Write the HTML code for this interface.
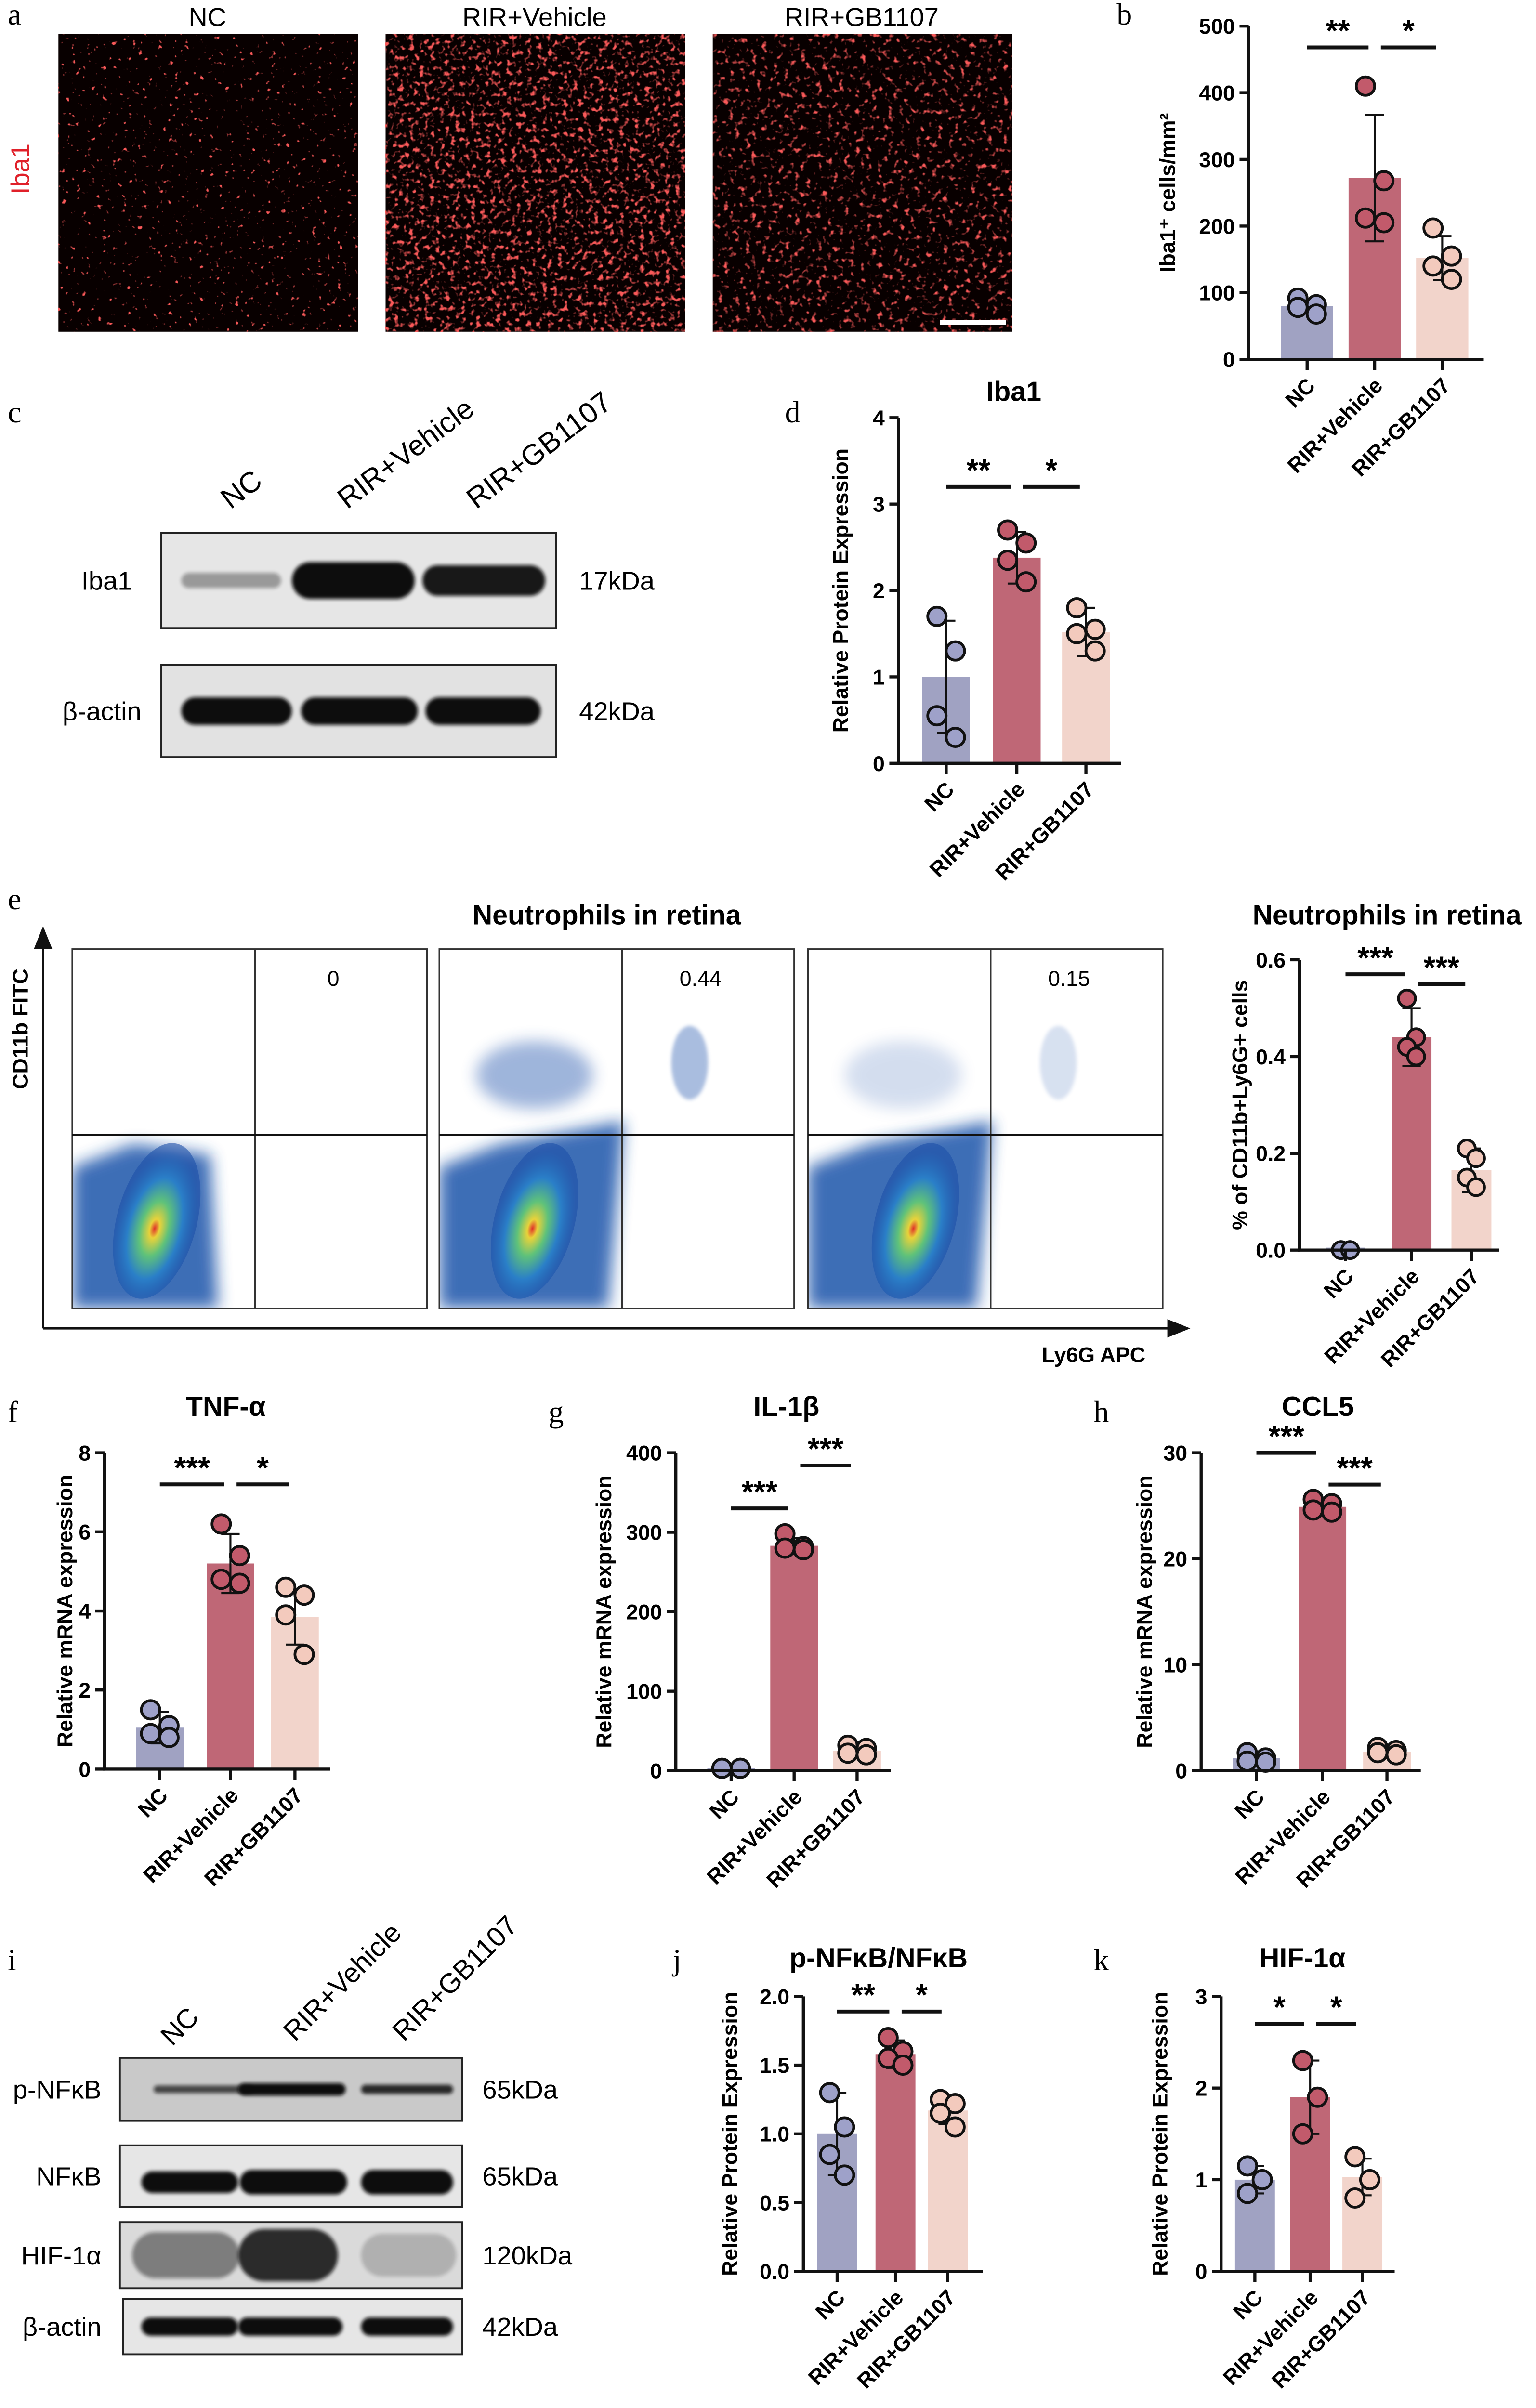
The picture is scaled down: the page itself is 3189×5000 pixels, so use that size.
<!DOCTYPE html>
<html><head><meta charset="utf-8"><style>
html,body{margin:0;padding:0;background:#fff;}
svg{display:block;}
text{font-family:"Liberation Sans",sans-serif;}
</style></head><body>
<svg id="fig" xmlns="http://www.w3.org/2000/svg" width="3189" height="5000" viewBox="0 0 1000 1568">
<defs>
<filter id="blur1" x="-20%" y="-50%" width="140%" height="200%"><feGaussianBlur stdDeviation="1.2"/></filter>
<filter id="blur3" x="-50%" y="-50%" width="200%" height="200%"><feGaussianBlur stdDeviation="5"/></filter>
<filter id="noise" x="0" y="0" width="100%" height="100%"><feTurbulence type="fractalNoise" baseFrequency="0.3" numOctaves="2" seed="3"/><feColorMatrix type="matrix" values="0 0 0 0 0.95  0 0 0 0 0.1  0 0 0 0 0.1  0 0 0 9 -6.2"/></filter>
<filter id="noise2" x="0" y="0" width="100%" height="100%"><feTurbulence type="fractalNoise" baseFrequency="0.3" numOctaves="2" seed="7"/><feColorMatrix type="matrix" values="0 0 0 0 0.95  0 0 0 0 0.1  0 0 0 0 0.1  0 0 0 5 -2.7"/></filter>
<filter id="noise3" x="0" y="0" width="100%" height="100%"><feTurbulence type="fractalNoise" baseFrequency="0.28" numOctaves="2" seed="11"/><feColorMatrix type="matrix" values="0 0 0 0 0.95  0 0 0 0 0.1  0 0 0 0 0.1  0 0 0 5 -2.9"/></filter>
<radialGradient id="flowg" cx="50%" cy="55%" r="50%"><stop offset="0" stop-color="#e0302a"/><stop offset="0.12" stop-color="#e8d23a"/><stop offset="0.35" stop-color="#5fc27a"/><stop offset="0.65" stop-color="#2a7fc8"/><stop offset="1" stop-color="#1c4fa8" stop-opacity="0.6"/></radialGradient>
<clipPath id="fc0"><rect x="47" y="618" width="231" height="234"/></clipPath>
<clipPath id="fc1"><rect x="286" y="618" width="231" height="234"/></clipPath>
<clipPath id="fc2"><rect x="526" y="618" width="231" height="234"/></clipPath>
</defs>
<g id="root"></g>
</svg>
<script>
// ---------- Chart data ----------
const groups = ["NC", "RIR+Vehicle", "RIR+GB1107"];
const bMeans = [80, 272, 152];
const bErr = [8, 95, 33];
const bPts = [[92, 82, 78, 68], [410, 268, 212, 205], [197, 155, 140, 120]];
const bTicks = [0, 100, 200, 300, 400, 500];
const dMeans = [1.0, 2.38, 1.52];
const dErr = [0.65, 0.3, 0.28];
const dPts = [[1.7, 1.3, 0.55, 0.3], [2.7, 2.55, 2.35, 2.1], [1.8, 1.55, 1.5, 1.3]];
const dTicks = [0, 1, 2, 3, 4];
const eMeans = [0.005, 0.44, 0.165];
const eErr = [0.003, 0.06, 0.045];
const ePts = [[0, 0, 0, 0], [0.52, 0.44, 0.42, 0.40], [0.21, 0.19, 0.15, 0.13]];
const eTicks = [0, 0.2, 0.4, 0.6];
const fMeans = [1.05, 5.2, 3.85];
const fErr = [0.4, 0.75, 0.7];
const fPts = [[1.5, 1.1, 0.9, 0.8], [6.2, 5.4, 4.8, 4.7], [4.6, 4.4, 3.9, 2.9]];
const fTicks = [0, 2, 4, 6, 8];
const gMeans = [3, 283, 25];
const gErr = [1, 10, 6];
const gPts = [[3, 3, 3, 3], [298, 282, 280, 278], [32, 28, 22, 20]];
const gTicks = [0, 100, 200, 300, 400];
const hMeans = [1.2, 24.9, 1.8];
const hErr = [0.4, 0.6, 0.3];
const hPts = [[1.7, 1.2, 0.9, 0.8], [25.6, 25.2, 24.6, 24.4], [2.2, 1.9, 1.7, 1.5]];
const hTicks = [0, 10, 20, 30];
const jMeans = [1.0, 1.58, 1.17];
const jErr = [0.3, 0.1, 0.1];
const jPts = [[1.3, 1.05, 0.85, 0.7], [1.7, 1.6, 1.55, 1.5], [1.25, 1.22, 1.15, 1.05]];
const jTicks = [0, 0.5, 1.0, 1.5, 2.0];
const kMeans = [1.0, 1.9, 1.03];
const kErr = [0.15, 0.4, 0.2];
const kPts = [[1.15, 1.0, 0.85], [2.3, 1.9, 1.5], [1.25, 1.0, 0.8]];
const kTicks = [0, 1, 2, 3];
const flowValues = ["0", "0.44", "0.15"];

const NS = "http://www.w3.org/2000/svg";
const root = document.getElementById("root");
const barFill = ["#a0a2c2", "#bf6776", "#f2d4cb"];
const dotFill = ["#9ea1c9", "#c25a6b", "#f3cabd"];
function el(tag, attrs, parent, txt) {
  const e = document.createElementNS(NS, tag);
  for (const k in attrs) e.setAttribute(k, attrs[k]);
  if (txt !== undefined) e.textContent = txt;
  (parent || root).appendChild(e);
  return e;
}

function chart(id, o, means, err, pts, ticks, sig) {
  const g = el("g", {});
  
  
  const max = ticks[ticks.length - 1];
  const y = v => o.bot - (v / max) * (o.bot - o.top);
  const dec = o.dec || 0;
  means.forEach((m, i) => {
    const r = el("rect", {x: o.cx[i] - o.bw / 2, y: y(m), width: o.bw, height: o.bot - y(m), fill: barFill[i]}, g);
    
    
  });
  means.forEach((m, i) => {
    const eb = el("path", {d: `M${o.cx[i]} ${y(m - err[i])}V${y(m + err[i])}M${o.cx[i]-6} ${y(m + err[i])}h12M${o.cx[i]-6} ${y(m - err[i])}h12`, stroke: "#111", "stroke-width": 1.3, fill: "none"}, g);
    
    
  });
  const off = [-6, 6, -6, 6];
  pts.forEach((arr, i) => arr.forEach((v, k) => {
    const c = el("circle", {cx: o.cx[i] + off[k % 4] * (o.spread || 1), cy: y(v), r: o.pr || 6, fill: dotFill[i], stroke: "#111", "stroke-width": 1.8}, g);
    
    
  }));
  const ax = el("path", {d: `M${o.ax} ${o.top}V${o.bot}H${o.xEnd}`, stroke: "#111", "stroke-width": 2, fill: "none"}, g);
  
  
  ticks.forEach(t => {
    el("line", {x1: o.ax - 6, x2: o.ax, y1: y(t), y2: y(t), stroke: "#111", "stroke-width": 2}, g);
    const tl = el("text", {x: o.ax - 9, y: y(t) + 5, "text-anchor": "end", "font-size": 14, "font-weight": "bold"}, g, t.toFixed(dec));
    
    
  });
  groups.forEach((name, i) => {
    el("line", {x1: o.cx[i], x2: o.cx[i], y1: o.bot, y2: o.bot + 7, stroke: "#111", "stroke-width": 2}, g);
    const tx = el("text", {x: 0, y: 0, "text-anchor": "end", "font-size": 14, "font-weight": "bold", transform: `translate(${o.cx[i] + 6},${o.bot + 18}) rotate(-45)`}, g, name);
    
    
  });
  const yt = el("text", {x: 0, y: 0, "text-anchor": "middle", "font-size": 14, "font-weight": "bold", transform: `translate(${o.ytx},${(o.top + o.bot) / 2}) rotate(-90)`}, g, o.ytitle);
  
  
  if (o.title) {
    const tt = el("text", {x: o.tx, y: o.ty, "text-anchor": "middle", "font-size": 18, "font-weight": "bold"}, g, o.title);
    
    
  }
  sig.forEach(s => {
    const x1 = o.cx[s[0]] + (s[0] === 0 ? 0 : 4), x2 = o.cx[s[1]] - 4;
    el("line", {x1: x1, x2: x2, y1: y(s[2]), y2: y(s[2]), stroke: "#111", "stroke-width": 2.5}, g);
    const st = el("text", {x: (x1 + x2) / 2, y: y(s[2]) - 4, "text-anchor": "middle", "font-size": 20, "font-weight": "bold"}, g, s[3]);
    
    
  });
}

chart("b", {ax: 813, top: 17, bot: 234, xEnd: 966, cx: [851, 895, 939], bw: 34, ytx: 765, ytitle: "Iba1\u207A cells/mm\u00B2"}, bMeans, bErr, bPts, bTicks, [[0, 1, 468, "**"], [1, 2, 468, "*"]]);
chart("d", {ax: 585, top: 272, bot: 497, xEnd: 730, cx: [616, 662, 707], bw: 31, ytx: 552, ytitle: "Relative Protein Expression", title: "Iba1", tx: 660, ty: 261}, dMeans, dErr, dPts, dTicks, [[0, 1, 3.2, "**"], [1, 2, 3.2, "*"]]);
chart("e", {ax: 846, top: 625, bot: 814, xEnd: 976, cx: [876, 919, 958], bw: 26, dec: 1, ytx: 812, ytitle: "% of CD11b+Ly6G+ cells", title: "Neutrophils in retina", tx: 903, ty: 602, spread: 0.5, pr: 5.5}, eMeans, eErr, ePts, eTicks, [[0, 1, 0.57, "***"], [1, 2, 0.55, "***"]]);
chart("f", {ax: 68, top: 946, bot: 1152, xEnd: 215, cx: [104, 150, 192], bw: 31, ytx: 47, ytitle: "Relative mRNA expression", title: "TNF-\u03B1", tx: 147, ty: 922}, fMeans, fErr, fPts, fTicks, [[0, 1, 7.2, "***"], [1, 2, 7.2, "*"]]);
chart("g", {ax: 440, top: 946, bot: 1153, xEnd: 580, cx: [476, 517, 558], bw: 31, ytx: 398, ytitle: "Relative mRNA expression", title: "IL-1\u03B2", tx: 512, ty: 922}, gMeans, gErr, gPts, gTicks, [[0, 1, 330, "***"], [1, 2, 384, "***"]]);
chart("h", {ax: 782, top: 946, bot: 1153, xEnd: 925, cx: [818, 861, 903], bw: 31, ytx: 750, ytitle: "Relative mRNA expression", title: "CCL5", tx: 858, ty: 922}, hMeans, hErr, hPts, hTicks, [[0, 1, 30, "***"], [1, 2, 27, "***"]]);
chart("j", {ax: 523, top: 1300, bot: 1479, xEnd: 640, cx: [545, 583, 617], bw: 26, dec: 1, ytx: 480, ytitle: "Relative Protein Expression", title: "p-NF\u03BAB/NF\u03BAB", tx: 572, ty: 1281, spread: 0.8}, jMeans, jErr, jPts, jTicks, [[0, 1, 1.89, "**"], [1, 2, 1.89, "*"]]);
chart("k", {ax: 795, top: 1300, bot: 1479, xEnd: 908, cx: [817, 853, 887], bw: 26, ytx: 760, ytitle: "Relative Protein Expression", title: "HIF-1\u03B1", tx: 848, ty: 1281, spread: 0.8}, kMeans, kErr, kPts, kTicks, [[0, 1, 2.7, "*"], [1, 2, 2.7, "*"]]);

[["a",5,16],["b",727,16],["c",5,275],["d",511,275],["e",5,592],["f",5,926],["g",357,926],["h",712,926],["i",5,1283],["j",438,1283],["k",712,1283]].forEach(p => {
  const t = el("text", {x: p[1], y: p[2], "font-size": 20, style: "font-family:'Liberation Serif',serif"}, root, p[0]);
  
  
});

// ---------- Panel a: micrographs ----------
const micX = [38, 251, 464];
const micFilt = ["noise", "noise2", "noise3"];
micX.forEach((x, i) => {
  const r = el("rect", {x: x, y: 22, width: 195, height: 194, fill: "#080000"});
  
  
  el("rect", {x: x, y: 22, width: 195, height: 194, filter: "url(#" + micFilt[i] + ")"});
  const t = el("text", {x: x + 97, y: 17, "text-anchor": "middle", "font-size": 17}, root, groups[i]);
  
  
});
el("line", {x1: 612, x2: 655, y1: 210, y2: 210, stroke: "#fff", "stroke-width": 3});
const ib = el("text", {x: 0, y: 0, "text-anchor": "middle", "font-size": 17, fill: "#e0202a", transform: "translate(19,110) rotate(-90)"}, root, "Iba1");



// ---------- Blots ----------
function blot(name, x, y, w, h, bg, bands, label, kda, lx, kx) {
  const g = el("g", {});
  
  
  el("rect", {x: x, y: y, width: w, height: h, fill: bg, stroke: "#222", "stroke-width": 1.2}, g);
  bands.forEach(b => el("rect", {x: b[0], y: y + h / 2 - b[2] / 2 + (b[4] || 0), width: b[1], height: b[2], rx: b[2] / 2, fill: "#111", opacity: b[3], filter: "url(#blur1)"}, g));
  el("text", {x: lx, y: y + h / 2 + 6, "text-anchor": "end", "font-size": 17}, g, label);
  el("text", {x: kx, y: y + h / 2 + 6, "font-size": 17}, g, kda);
}
blot("c-iba1", 105, 347, 257, 62, "#e6e6e6", [[118, 65, 10, 0.35], [190, 80, 24, 1], [275, 80, 20, 0.95]], "Iba1", "17kDa", 86, 377);
blot("c-actin", 105, 433, 257, 60, "#e2e2e2", [[118, 72, 18, 1], [196, 76, 18, 1], [277, 75, 18, 1]], "\u03B2-actin", "42kDa", 92, 377);
[["NC",180],["RIR+Vehicle",226],["RIR+GB1107",310]].forEach((p, i) => {
  const t = el("text", {x: 0, y: 0, "font-size": 19, transform: `translate(${p[1] - (i === 0 ? 30 : 0)},${332}) rotate(-37)`}, root, p[0]);
  
  
});
blot("i-pnfkb", 78, 1340, 223, 41, "#c9c9c9", [[100, 65, 5, 0.7], [155, 70, 8, 1], [235, 60, 6, 0.85]], "p-NF\u03BAB", "65kDa", 66, 314);
blot("i-nfkb", 78, 1397, 223, 40, "#e6e6e6", [[92, 63, 14, 1, 4], [156, 70, 16, 1, 4], [235, 60, 16, 1, 4]], "NF\u03BAB", "65kDa", 66, 314);
blot("i-hif", 78, 1447, 223, 43, "#dadada", [[86, 70, 30, 0.45], [155, 65, 34, 0.85], [235, 62, 28, 0.2]], "HIF-1\u03B1", "120kDa", 66, 314);
blot("i-actin", 80, 1497, 221, 36, "#e6e6e6", [[92, 63, 12, 1], [155, 68, 12, 1], [235, 60, 12, 1]], "\u03B2-actin", "42kDa", 66, 314);
[["NC",112,1333],["RIR+Vehicle",192,1330],["RIR+GB1107",263,1330]].forEach((p, i) => {
  const t = el("text", {x: 0, y: 0, "font-size": 18, transform: `translate(${p[1]},${p[2]}) rotate(-45)`}, root, p[0]);
  
  
});

// ---------- Flow panels ----------
const flowX = [47, 286, 526];
flowX.forEach((x, i) => {
  const g = el("g", {});
  
  
  el("rect", {x: x, y: 618, width: 231, height: 234, fill: "#fff"}, g);
  const cg = el("g", {"clip-path": "url(#fc" + i + ")"}, g);
  const cx = i === 0 ? x + 55 : (i === 1 ? x + 62 : x + 70);
  el("path", {d: `M${x} 760 L${x + 40} 745 L${x + (i===0?90:120)} ${i===0?752:730} L${x + (i===0?95:110)} 852 L${x} 852 Z`, fill: "#1f55aa", opacity: 0.85, filter: "url(#blur3)"}, cg);
  el("ellipse", {cx: cx, cy: 795, rx: 26, ry: 52, fill: "url(#flowg)", transform: `rotate(15 ${cx} 795)`}, cg);
  if (i > 0) {
    el("ellipse", {cx: x + 62, cy: 700, rx: 38, ry: 22, fill: "#2a5cb0", opacity: i === 1 ? 0.45 : 0.2, filter: "url(#blur3)"}, cg);
    el("ellipse", {cx: x + 163, cy: 692, rx: 12, ry: 24, fill: "#2a5cb0", opacity: i === 1 ? 0.4 : 0.18, filter: "url(#blur1)"}, cg);
  }
  el("rect", {x: x, y: 618, width: 231, height: 234, fill: "none", stroke: "#333", "stroke-width": 1}, g);
  el("line", {x1: x + 119, x2: x + 119, y1: 618, y2: 852, stroke: "#333", "stroke-width": 1}, g);
  el("line", {x1: x, x2: x + 231, y1: 739, y2: 739, stroke: "#111", "stroke-width": 1.5}, g);
  const v = el("text", {x: x + 170, y: 642, "text-anchor": "middle", "font-size": 14}, g, flowValues[i]);
  
  
});
el("path", {d: "M28 865V612M28 865H765", stroke: "#111", "stroke-width": 1.5, fill: "none"});
el("path", {d: "M22 618L28 603L34 618Z M760 859L775 865L760 871Z", fill: "#111"});
const ft = el("text", {x: 395, y: 602, "text-anchor": "middle", "font-size": 18, "font-weight": "bold"}, root, "Neutrophils in retina");


const fy = el("text", {x: 0, y: 0, "text-anchor": "middle", "font-size": 14, "font-weight": "bold", transform: "translate(18,670) rotate(-90)"}, root, "CD11b FITC");


const fx = el("text", {x: 712, y: 887, "text-anchor": "middle", "font-size": 14, "font-weight": "bold"}, root, "Ly6G APC");


</script>
</body></html>
